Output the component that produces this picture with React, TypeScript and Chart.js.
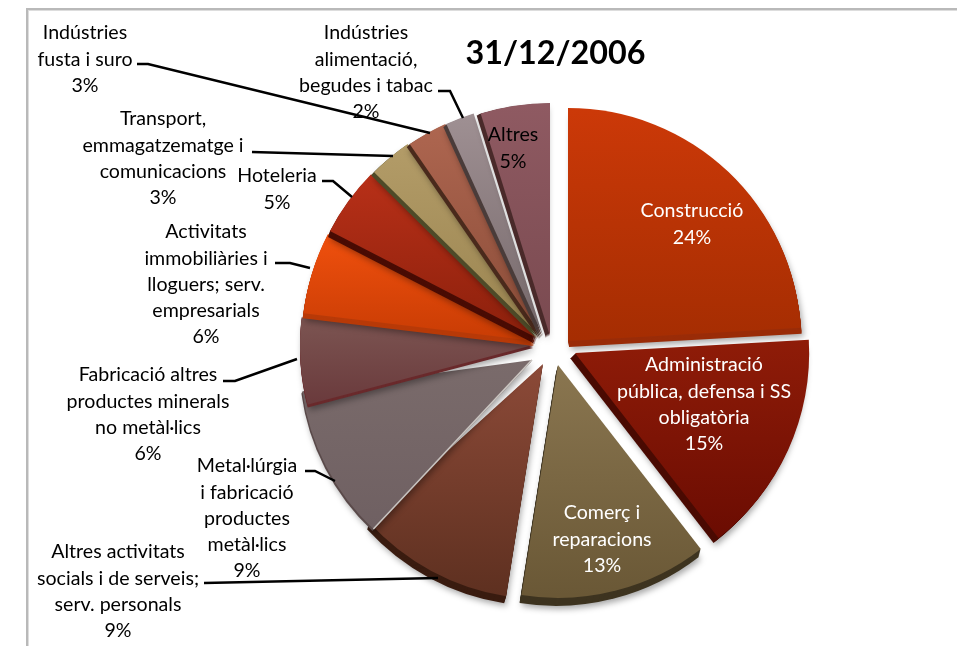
import React, { useEffect, useRef } from "react";
import { Chart, PieController, ArcElement, Title } from "chart.js";

const categories = [
  "Construcció",
  "Administració pública, defensa i SS obligatòria",
  "Comerç i reparacions",
  "Altres activitats socials i de serveis; serv. personals",
  "Metal·lúrgia i fabricació productes metàl·lics",
  "Fabricació altres productes minerals no metàl·lics",
  "Activitats immobiliàries i lloguers; serv. empresarials",
  "Hoteleria",
  "Transport, emmagatzematge i comunicacions",
  "Indústries fusta i suro",
  "Indústries alimentació, begudes i tabac",
  "Altres",
];
const shares = [24.1, 15.4, 13.0, 9.49, 8.9, 6.0, 5.7, 4.8, 3.0, 2.8, 2.0, 4.81];
const titleText = "31/12/2006";

const labelLines = [
  ["Construcció", "24%"],
  ["Administració", "pública, defensa i SS", "obligatòria", "15%"],
  ["Comerç i", "reparacions", "13%"],
  ["Altres activitats", "socials i de serveis;", "serv. personals", "9%"],
  ["Metal·lúrgia", "i fabricació", "productes", "metàl·lics", "9%"],
  ["Fabricació altres", "productes minerals", "no metàl·lics", "6%"],
  ["Activitats", "immobiliàries i", "lloguers; serv.", "empresarials", "6%"],
  ["Hoteleria", "5%"],
  ["Transport,", "emmagatzematge i", "comunicacions", "3%"],
  ["Indústries", "fusta i suro", "3%"],
  ["Indústries", "alimentació,", "begudes i tabac", "2%"],
  ["Altres", "5%"],
];
const labelX = [692, 704, 602, 118, 247, 148, 206, 277, 163, 85, 366, 513];
const labelY = [211, 365, 513, 552, 466, 375, 232, 176, 119, 33, 33, 135];
const labelColor = ["#fff", "#fff", "#fff", "#000", "#000", "#000", "#000", "#000", "#000", "#000", "#000", "#000"];
const LINE_STEP = 26.2;

const leaders: (number[][] | null)[] = [
  null, null, null,
  [[204, 583], [438, 578]],
  [[305, 471], [315, 471], [335, 481]],
  [[223, 381], [235, 381], [297, 359]],
  [[275, 263], [290, 263], [310, 268]],
  [[322, 181], [333, 181], [352, 197]],
  [[252, 152], [393, 156]],
  [[137, 64], [148, 64], [430, 133]],
  [[438, 91], [450, 91], [463, 118]],
  null,
];

const shiftX = [12.5, 19.5, 2.5, -12.5, -23.5, -22.5, -20.5, -18.5, -15.5, -13.5, -12.5, -5.5];
const shiftY = [-5, 7, 19, 18, 14, -1, -5, -8, -10, -10, -10, -10];
const radiusScale = [1, 1.005, 1, 1.01, 0.995, 1, 1, 1, 1, 1, 1, 1];
const endOverlapDeg = [0, 0, 0, 4.5, 7, 0, 0, 0, 0, 0, 0, 0];
const depthX = [1, -5, -2, -2, -1, 0, -1, -2, -3, -3, -3, -4];
const depthY = [6, 5, 8, 7, 2, 3, 5, 6, 3, 3, 3, 2];
const sideColor = ["#9a2c08", "#4a0a02", "#3e3420", "#3a1c10", "#5a4a4a", "#6a2a2c", "#b83a08", "#4a0c04", "#4e4a28", "#4a2a1c", "#4a3c3a", "#4a2a2a"];
const faceTop = ["#cc3908", "#8f1c08", "#8a7650", "#8c4a38", "#7a6b6b", "#7c5552", "#f0500e", "#b83018", "#b39c68", "#ae6650", "#9f9093", "#8f5a62"];
const faceBottom = ["#a52d02", "#6b0c02", "#6a5836", "#5e3020", "#6f6062", "#6a3a3c", "#c83c04", "#8c200c", "#9a8450", "#8a4c38", "#75686a", "#7a4a50"];

class Slice3D extends ArcElement {
  static id = "slice3d";
  static defaults = ArcElement.defaults;
  static defaultRoutes = ArcElement.defaultRoutes;
  draw(ctx: CanvasRenderingContext2D) {
    const { x, y, startAngle, endAngle, outerRadius } = (this as any).getProps(["x", "y", "startAngle", "endAngle", "outerRadius"]);
    const i = (this as any).sliceIndex;
    const r = outerRadius * radiusScale[i];
    const px = x + shiftX[i];
    const py = y + shiftY[i];
    const end = endAngle + (endOverlapDeg[i] * Math.PI) / 180;
    const wedge = (ox: number, oy: number) => {
      ctx.beginPath();
      ctx.moveTo(px + ox, py + oy);
      ctx.arc(px + ox, py + oy, r, startAngle, end);
      ctx.closePath();
    };
    ctx.save();
    ctx.shadowColor = "rgba(0,0,0,0.35)";
    ctx.shadowBlur = 6;
    ctx.shadowOffsetX = 2;
    ctx.shadowOffsetY = 3;
    ctx.fillStyle = sideColor[i];
    wedge(depthX[i], depthY[i]);
    ctx.fill();
    ctx.shadowColor = "transparent";
    const n = Math.max(Math.abs(depthX[i]), Math.abs(depthY[i]));
    for (let k = n - 1; k > 0; k--) {
      wedge((depthX[i] * k) / n, (depthY[i] * k) / n);
      ctx.fill();
    }
    const mid = (startAngle + endAngle) / 2;
    const ys = [py, py + r * Math.sin(startAngle), py + r * Math.sin(endAngle), py + r * Math.sin(mid)];
    const g = ctx.createLinearGradient(0, Math.min(...ys), 0, Math.max(...ys));
    g.addColorStop(0, faceTop[i]);
    g.addColorStop(1, faceBottom[i]);
    ctx.fillStyle = g;
    wedge(0, 0);
    ctx.fill();
    if (i === 4) {
      ctx.strokeStyle = "#c9c4c0";
      ctx.lineWidth = 1.5;
      ctx.beginPath();
      ctx.moveTo(px, py);
      ctx.lineTo(px + r * Math.cos(startAngle), py + r * Math.sin(startAngle));
      ctx.stroke();
    }
    ctx.restore();
  }
}

class Pie3D extends PieController {
  static id = "pie3d";
  static defaults = { ...PieController.defaults, dataElementType: "slice3d" };
  static overrides = PieController.overrides;
  updateElements(arcs: any[], start: number, count: number, mode: any) {
    (super.updateElements as any)(arcs, start, count, mode);
    arcs.forEach((a, k) => {
      a.sliceIndex = k;
    });
  }
}

const frameAndLabels = {
  id: "frameAndLabels",
  beforeDraw(chart: any) {
    const c = chart.ctx;
    c.save();
    c.fillStyle = "#b9b9b9";
    c.fillRect(26, 8, 957, 2);
    c.fillRect(26, 8, 2, 646);
    c.fillStyle = "#dddddd";
    c.fillRect(28, 10, 957, 1);
    c.fillRect(28, 10, 1, 646);
    c.restore();
  },
  afterDatasetsDraw(chart: any) {
    const c = chart.ctx;
    c.save();
    c.strokeStyle = "#000";
    c.lineWidth = 2.5;
    leaders.forEach((pts) => {
      if (!pts) return;
      c.beginPath();
      pts.forEach((p, k) => (k ? c.lineTo(p[0], p[1]) : c.moveTo(p[0], p[1])));
      c.stroke();
    });
    c.font = "19.6px Lato";
    c.textAlign = "center";
    c.textBaseline = "middle";
    labelLines.forEach((lines, i) => {
      c.fillStyle = labelColor[i];
      lines.forEach((t, k) => c.fillText(t, labelX[i], labelY[i] + k * LINE_STEP));
    });
    c.restore();
  },
};

Chart.register(Pie3D, Slice3D, Title);

export default function App() {
  const ref = useRef<HTMLCanvasElement>(null);
  useEffect(() => {
    const chart = new Chart(ref.current as HTMLCanvasElement, {
      type: "pie3d" as any,
      data: {
        labels: categories,
        datasets: [{ data: shares, radius: 233, clip: false, borderWidth: 0 } as any],
      },
      options: {
        responsive: false,
        animation: false,
        rotation: 0,
        layout: { padding: { left: 154, top: 34, bottom: 27, right: 0 } },
        plugins: {
          legend: { display: false },
          tooltip: { enabled: false },
          title: {
            display: true,
            text: titleText,
            color: "#000",
            font: { family: "Lato", size: 32.3, weight: "bold" },
            padding: 0,
          },
        },
      } as any,
      plugins: [frameAndLabels],
    });
    return () => chart.destroy();
  }, []);
  return (
    <div style={{ position: "absolute", left: 0, top: 0, width: 957, height: 646, overflow: "hidden", background: "#fff" }}>
      <canvas ref={ref} width={957} height={646} style={{ display: "block" }} />
    </div>
  );
}
